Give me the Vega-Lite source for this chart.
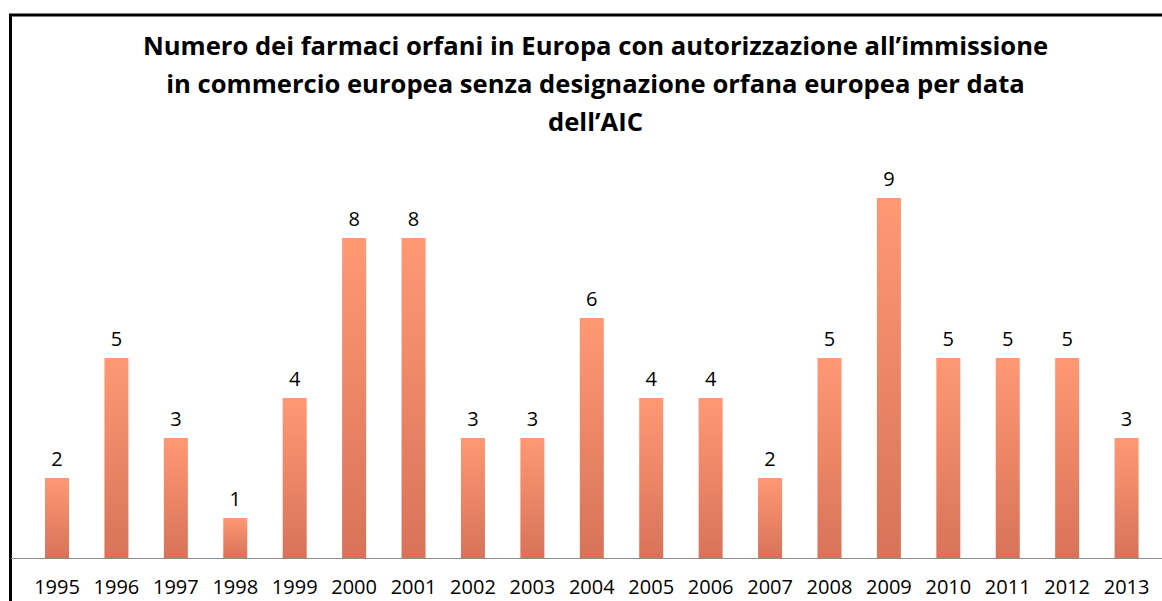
{
  "$schema": "https://vega.github.io/schema/vega-lite/v6.json",
  "autosize": {"type": "none"},
  "padding": {"left": 10.5, "top": 15, "right": 0, "bottom": 0},
  "width": 1170,
  "height": 600,
  "background": "white",
  "config": {
    "view": {"stroke": "black", "strokeWidth": 3},
    "font": "Open Sans"
  },
  "title": {
    "text": ["Numero dei farmaci orfani in Europa con autorizzazione all’immissione", "in commercio europea senza designazione orfana europea per data", "dell’AIC"],
    "font": "Open Sans",
    "fontSize": 25.6,
    "fontWeight": "bold",
    "color": "black",
    "anchor": "middle",
    "frame": "group",
    "baseline": "alphabetic",
    "lineHeight": 38,
    "offset": -142
  },
  "data": {
    "values": [
      {"anno": "1995", "n": 2},
      {"anno": "1996", "n": 5},
      {"anno": "1997", "n": 3},
      {"anno": "1998", "n": 1},
      {"anno": "1999", "n": 4},
      {"anno": "2000", "n": 8},
      {"anno": "2001", "n": 8},
      {"anno": "2002", "n": 3},
      {"anno": "2003", "n": 3},
      {"anno": "2004", "n": 6},
      {"anno": "2005", "n": 4},
      {"anno": "2006", "n": 4},
      {"anno": "2007", "n": 2},
      {"anno": "2008", "n": 5},
      {"anno": "2009", "n": 9},
      {"anno": "2010", "n": 5},
      {"anno": "2011", "n": 5},
      {"anno": "2012", "n": 5},
      {"anno": "2013", "n": 3}
    ]
  },
  "encoding": {
    "x": {
      "field": "anno",
      "type": "ordinal",
      "scale": {"paddingInner": 0.596, "paddingOuter": 0.643, "align": 0.4516},
      "axis": {
        "title": null,
        "orient": "bottom",
        "offset": -57,
        "labelAngle": 0,
        "ticks": false,
        "domainColor": "#8c8c8c",
        "domainWidth": 1.2,
        "labelFont": "Open Sans",
        "labelFontSize": 20,
        "labelColor": "black",
        "labelBaseline": "alphabetic",
        "labelPadding": 35
      }
    },
    "y": {
      "field": "n",
      "type": "quantitative",
      "scale": {"domain": [-1.425, 13.575], "nice": false, "zero": false},
      "axis": null
    }
  },
  "layer": [
    {
      "mark": {
        "type": "bar",
        "color": {
          "gradient": "linear",
          "x1": 0, "y1": 0, "x2": 0, "y2": 1,
          "stops": [
            {"offset": 0, "color": "#FF9873"},
            {"offset": 1, "color": "#D87359"}
          ]
        }
      },
      "encoding": {"y2": {"datum": 0}}
    },
    {
      "mark": {"type": "text", "dy": -12, "baseline": "alphabetic", "fontSize": 20, "font": "Open Sans", "color": "black"},
      "encoding": {"text": {"field": "n", "type": "quantitative"}}
    }
  ]
}
